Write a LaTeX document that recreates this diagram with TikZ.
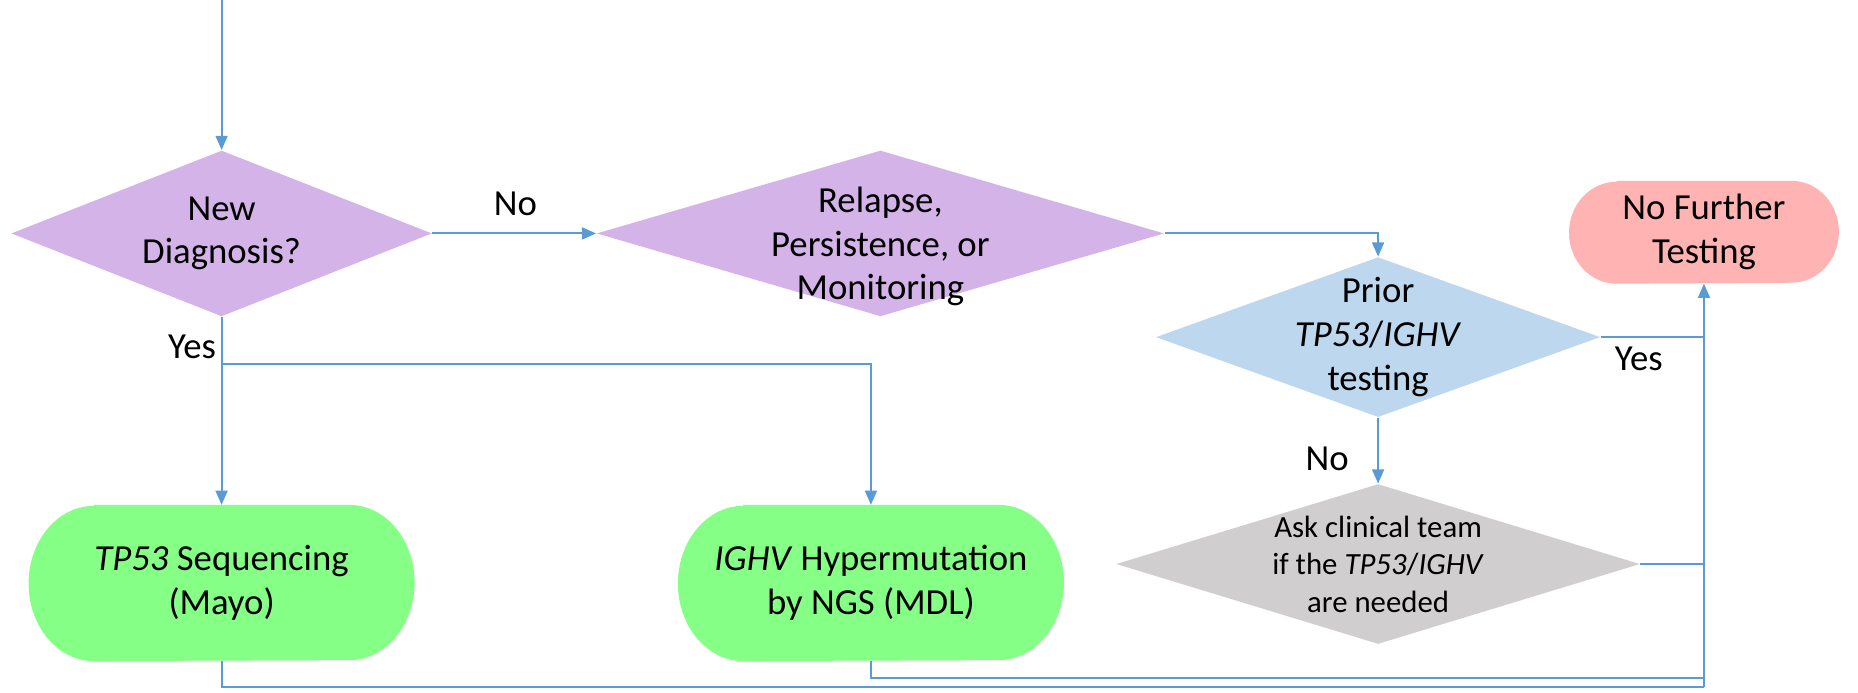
\documentclass[tikz,border=0pt]{standalone}
\usepackage{fontspec}
\setmainfont{Carlito}
\usepackage{xcolor}
\usetikzlibrary{shapes.geometric,arrows.meta,positioning,calc,backgrounds}
\definecolor{flowline}{HTML}{5B9BD5}
\definecolor{askpurple}{HTML}{D4B4E8}
\definecolor{priorblue}{HTML}{BDD7EE}
\definecolor{askgray}{HTML}{D0CECE}
\definecolor{stoppink}{HTML}{FFB3B3}
\definecolor{testgreen}{HTML}{86FF86}
\tikzset{
  decision/.style={diamond, inner sep=0pt, draw=none},
  pill/.style={rectangle, inner sep=0pt, align=center},
  testbox/.style={pill, minimum width=162.5pt, minimum height=65.5pt},
  label txt/.style={inner sep=0pt, align=center},
  flow/.style={flowline, line width=0.9pt},
  flowarrow/.style={flow, -{Triangle[width=5pt,length=6pt]}}
}
\begin{document}
\begin{tikzpicture}[x=0.5pt, y=0.5pt, font=\fontsize{15.5}{18.5}\selectfont]
\useasboundingbox (0,0) rectangle (1568,584);

% decisions
\node[decision, fill=askpurple, minimum width=177.5pt, minimum height=70pt] (newdx) at (187,387) {};
\node[label txt] (newdx-t) at (newdx) {New\\Diagnosis?};
\node[decision, fill=askpurple, minimum width=239.5pt, minimum height=70pt] (relapse) at (743,387) {};
\node[label txt] (relapse-t) at (743,376) {Relapse,\\Persistence, or\\Monitoring};
\node[decision, fill=priorblue, minimum width=187.5pt, minimum height=67.5pt] (prior) at (1163,299.5) {};
\node[label txt] (prior-t) at (prior) {Prior\\\textit{TP53}/\textit{IGHV}\\testing};
\node[decision, fill=askgray, minimum width=221pt, minimum height=67.5pt] (askteam) at (1163,108) {};
\node[label txt, font=\fontsize{13}{15.8}\selectfont] (askteam-t) at (askteam) {Ask clinical team\\if the \textit{TP53}/\textit{IGHV}\\are needed};

% end points
\node[pill, minimum width=113.5pt, minimum height=43pt] (nofurther) at (1438,388) {No Further\\Testing};
\node[testbox] (tp53) at (187,92) {\textit{TP53} Sequencing\\(Mayo)};
\node[testbox] (ighv) at (735,92) {\textit{IGHV} Hypermutation\\by NGS (MDL)};

% rounded fills behind the end points
\begin{scope}[on background layer]
\foreach \n/\r/\ry/\c in {tp53/55/65.5/testgreen, ighv/55/65.5/testgreen, nofurther/40/43/stoppink}
  \fill[\c] ($(\n.north west)+(\r,0)$) -- ($(\n.north east)+(-\r,0)$)
    arc[start angle=90, end angle=-90, x radius=\r, y radius=\ry]
    -- ($(\n.south west)+(\r,0)$)
    arc[start angle=270, end angle=90, x radius=\r, y radius=\ry] -- cycle;
\end{scope}

% connectors
\coordinate (start) at (187,584);
\coordinate (split) at (187,277);
\coordinate (low1) at (1438,4);
\coordinate (low2) at (1438,12);
\draw[flowarrow] (start) -- (newdx.north);
\draw[flowarrow] (newdx.east) -- (relapse.west);
\draw[flowarrow] (relapse.east) -| (prior.north);
\draw[flowarrow] (prior.south) -- (askteam.north);
\draw[flowarrow] (newdx.south) -- (tp53.north);
\draw[flowarrow] (split) -| (ighv.north);
\draw[flow] (tp53.south) |- (low1);
\draw[flow] (ighv.south) |- (low2);
\draw[flow] (prior.east) -- (prior.east -| low1);
\draw[flow] (askteam.east) -- (askteam.east -| low1);
\draw[flowarrow] (low1) -- (nofurther.south);

% branch labels
\node[label txt] (no1) at (435,412) {No};
\node[label txt] (yes1) at (162,291) {Yes};
\node[label txt] (yes2) at (1383,281) {Yes};
\node[label txt] (no2) at (1120,197) {No};
\end{tikzpicture}
\end{document}
